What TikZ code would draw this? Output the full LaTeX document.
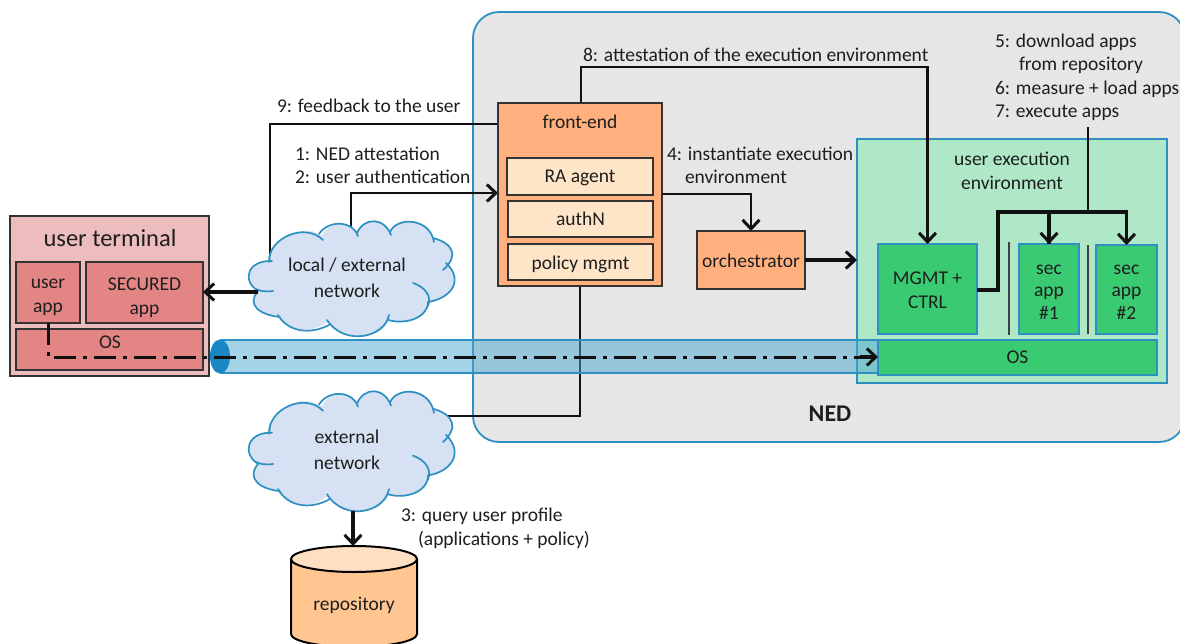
\documentclass[tikz,border=0pt]{standalone}
\usepackage{fontspec}
\setmainfont{Carlito}
\usetikzlibrary{arrows.meta}
\pgfdeclarelayer{bg}\pgfdeclarelayer{conn}\pgfdeclarelayer{tube}\pgfdeclarelayer{cloudlayer}\pgfdeclarelayer{top}
\pgfsetlayers{bg,conn,tube,cloudlayer,main,top}
\definecolor{txt}{HTML}{1E1E1E}
\definecolor{linec}{HTML}{111111}
\definecolor{nedfill}{HTML}{E6E6E7}
\definecolor{bluel}{HTML}{2E90C0}
\definecolor{termfill}{HTML}{EDBCBC}
\definecolor{termin}{HTML}{E38585}
\definecolor{feo}{HTML}{FFB07E}
\definecolor{fei}{HTML}{FFE5C8}
\definecolor{ueef}{HTML}{AEE8C6}
\definecolor{greenf}{HTML}{3ACB72}
\definecolor{cloudf}{HTML}{D6E2F3}
\definecolor{tubef}{HTML}{4AA8D0}
\definecolor{tubee}{HTML}{1A87C4}
\definecolor{repoa}{HTML}{FFC692}
\definecolor{repob}{HTML}{FFDFC2}
\tikzset{
  x=1pt,y=-1pt,
  every node/.style={font=\fontsize{19.5}{24}\selectfont,text=txt,inner sep=0pt,outer sep=0pt,align=center},
  lbl/.style={anchor=west,align=left},
  box/.style={draw=#1,line width=1.8pt,rectangle},
  termbox/.style={box=black!80,fill=termin},
  febox/.style={box=black!80,fill=fei},
  orange/.style={box=black!80,fill=feo},
  greenbox/.style={box=bluel,fill=greenf},
  conn/.style={draw=linec,line width=2.4pt},
  thick conn/.style={draw=linec,line width=3.3pt},
  arr/.style={-{Straight Barb[length=9pt,width=17pt,line width=3pt]}},
  cloudline/.style={draw=bluel,line width=1.7pt},
}
\newcommand{\cloudshape}{%
  \fill[cloudf] (269,262) .. controls (268,238) and (305,222) .. (322,236)
   .. controls (328,220) and (352,220) .. (357,233)
   .. controls (364,217) and (384,217) .. (390,232)
   .. controls (397,216) and (430,218) .. (433,238)
   .. controls (452,243) and (460,255) .. (447,265)
   .. controls (464,280) and (452,298) .. (428,302)
   .. controls (428,318) and (405,325) .. (388,320)
   .. controls (385,337) and (345,347) .. (327,322)
   .. controls (310,335) and (288,332) .. (278,316)
   .. controls (260,315) and (246,305) .. (258,291)
   .. controls (241,280) and (248,260) .. (269,262) -- cycle;
  \draw[cloudline,line cap=round]
   (269,262) .. controls (268,238) and (305,222) .. (323,240)
   (319,234) .. controls (328,220) and (352,220) .. (358,236)
   (357,233) .. controls (364,217) and (384,217) .. (391,235)
   (390,232) .. controls (397,216) and (430,218) .. (434,242)
   (433,238) .. controls (452,243) and (460,255) .. (443,270)
   (446,263) .. controls (464,280) and (452,298) .. (428,302)
   (413,283) .. controls (425,287) and (432,296) .. (428,306)
   (428,302) .. controls (428,318) and (405,325) .. (388,320)
   (389,315) .. controls (385,337) and (345,347) .. (327,320)
   (329,325) .. controls (310,335) and (288,332) .. (278,315)
   (280,317) .. controls (260,315) and (246,305) .. (258,291)
   (273,291) .. controls (265,292) and (260,291) .. (256,289)
   (258,291) .. controls (241,280) and (248,260) .. (272,261)
   (269,262) -- (270,255);
}
\begin{document}
\begin{tikzpicture}
\useasboundingbox (0,0) rectangle (1180,644);
\clip (0,0) rectangle (1180,644);

\begin{pgfonlayer}{bg}
  \node[draw=bluel,line width=1.8pt,fill=nedfill,rounded corners=26pt,minimum width=712pt,minimum height=430pt] (ned) at (829,227) {};
  \node[draw=bluel,line width=1.8pt,fill=ueef,minimum width=310pt,minimum height=244pt] (uee) at (1012,261) {};
  \node[draw=black!80,line width=1.8pt,fill=termfill,minimum width=199pt,minimum height=160pt] (term) at (109.5,296) {};
\end{pgfonlayer}

% labels of containers
\node[font=\fontsize{24.5}{28}\selectfont] (termt) at (110,238) {user terminal};
\node (ueet) at (1012,171) {user execution\\environment};
\node[font=\fontsize{24}{28}\selectfont\bfseries] (nedt) at (830,414) {NED};

% terminal
\node[termbox,minimum width=64pt,minimum height=61pt] (uapp) at (48,292.5) {};
\node (uappt) at (48,297.5) {user\\app};
\node[termbox,minimum width=117pt,minimum height=61pt] (sapp) at (144.5,292.5) {};
\node (sappt) at (144.5,297.5) {SECURED\\app};
\node[termbox,minimum width=187pt,minimum height=41pt] (tos) at (109.5,349.5) {};
\node (tost) at (110,342) {OS};

% front-end
\node[orange,minimum width=164pt,minimum height=183pt] (fe) at (580,194.5) {};
\node (fet) at (580,122) {front-end};
\node[febox,minimum width=146pt,minimum height=37pt] (ra) at (580,176.5) {};
\node (rat) at (580,178) {RA agent};
\node[febox,minimum width=145pt,minimum height=36pt] (authn) at (580.5,219) {authN};
\node[febox,minimum width=145pt,minimum height=36pt] (policy) at (580.5,262) {};
\node (policyt) at (580.5,264) {policy mgmt};
\node[orange,minimum width=108pt,minimum height=58pt] (orch) at (751,260) {};
\node (orcht) at (751,261) {orchestrator};

% execution environment
\node[greenbox,minimum width=99pt,minimum height=90pt] (mgmt) at (927.5,289) {};
\node (mgmtt) at (927.5,290) {MGMT +\\CTRL};
\node[greenbox,minimum width=60pt,minimum height=90pt] (sec1) at (1049,289) {};
\node (sec1t) at (1049,292) {sec\\[-1.5pt]app\\[-1.5pt]\#1};
\node[greenbox,minimum width=61pt,minimum height=89pt] (sec2) at (1126.5,289.5) {};
\node (sec2t) at (1126.5,292) {sec\\[-1.5pt]app\\[-1.5pt]\#2};
\node[greenbox,minimum width=279pt,minimum height=35pt] (eos) at (1017.5,357.5) {OS};

% bars
\begin{pgfonlayer}{conn}
  \coordinate (bar1a) at (1009,242);\coordinate (bar1b) at (1009,335);
  \coordinate (bar2a) at (1088,245);\coordinate (bar2b) at (1088,334);
  \draw[draw=black!75,line width=2pt] (bar1a) -- (bar1b);
  \draw[draw=black!75,line width=2pt] (bar2a) -- (bar2b);
\end{pgfonlayer}

% clouds and repository
\node (lan) at (347,277.5) {local / external\\[2pt]network};
\node (ext) at (347,449.5) {external\\[2pt]network};
\begin{pgfonlayer}{cloudlayer}
  \cloudshape
  \begin{scope}[shift={(0,160.5)},yscale=1.043]\cloudshape\end{scope}
\end{pgfonlayer}

\node[minimum width=126pt,minimum height=98pt] (repo) at (354,595) {};
\draw[black,line width=2pt,fill=repoa] (291,559) -- (291,634) arc[start angle=180,end angle=360,x radius=63,y radius=-13] -- (417,559);
\draw[black,line width=2pt,fill=repob] (354,559) ellipse[x radius=63,y radius=13];
\node (repot) at (354,605) {repository};

% connectors
\begin{pgfonlayer}{conn}
  \coordinate (t8) at (581,67);
  \coordinate (t9) at (270,124);
  \coordinate (t12) at (351,193);
  \coordinate (t4) at (751,194);
  \coordinate (s1) at (998,290);
  \coordinate (s2) at (998,212);
  \coordinate (s3) at (1088,212);
  \coordinate (s4) at (1088,127);
  \coordinate (x1) at (580,416);
  \draw[conn] (fe.north -| t8) -- (t8) -| (mgmt.north);
  \draw[conn] (fe.west |- t9) -- (t9) -- (t9 |- lan);
  \draw[conn,arr] (t12 |- lan) -- (t12) -- (fe.west |- t12);
  \draw[conn] (fe.south) -- (x1) -- (ext.center |- x1);
  \draw[conn] (s4) -- (s3);
\end{pgfonlayer}
\begin{pgfonlayer}{top}
  \draw[thick conn,arr] (mgmt.north |- uee.north) -- (mgmt.north);
  \draw[conn,arr] (fe.east |- t4) -- (t4) -- (orch.north);
  \draw[thick conn,arr] (orch.east) -- (uee.west |- orch.east);
  \draw[thick conn] (mgmt.east |- s1) -- (s1) -- (s2) -| (sec1.north);
  \draw[thick conn,arr] (sec1.north |- s2) -- (sec1.north);
  \draw[thick conn,arr] (s2) -| (sec2.north);
  \coordinate (lanw) at (258,292);
  \draw[thick conn,arr] (lanw) -- (sapp.east |- lanw);
  \coordinate (extb) at (353,511);
  \draw[thick conn,arr] (extb) -- (extb |- repo.north);
  \coordinate (corner) at (48,357);
  \draw[draw=linec,line width=3pt,dash pattern=on 22pt off 7pt on 4pt off 7pt] (uapp.south) -- (corner) -- (eos.west |- corner);
  \draw[thick conn,arr] (860,357) -- (eos.west |- corner);
\end{pgfonlayer}

% tube
\begin{pgfonlayer}{tube}
  \coordinate (tubeL) at (220,356.5);
  \fill[tubef,opacity=.5] (220,340) rectangle (878,373);
  \draw[bluel,line width=1.5pt] (220,340) -- (878,340) (220,373) -- (878,373);
  \fill[tubee] (tubeL) ellipse[x radius=10,y radius=17];
\end{pgfonlayer}

% labels
\node[lbl] (l8) at (583,55) {8: attestation of the execution environment};
\node[lbl] (l9) at (277,106) {9: feedback to the user};
\node[lbl] (l1) at (295,154) {1: NED attestation};
\node[lbl] (l2) at (295,177) {2: user authentication};
\node[lbl] (l4a) at (667,154) {4: instantiate execution};
\node[lbl] (l4b) at (685,177) {environment};
\node[lbl] (l5a) at (995,42) {5: download apps};
\node[lbl] (l5b) at (1019,65) {from repository};
\node[lbl] (l6) at (995,89) {6: measure + load apps};
\node[lbl] (l7) at (995,113) {7: execute apps};
\node[lbl] (l3a) at (401,516) {3: query user profile};
\node[lbl] (l3b) at (418,540) {(applications + policy)};
\end{tikzpicture}
\end{document}
